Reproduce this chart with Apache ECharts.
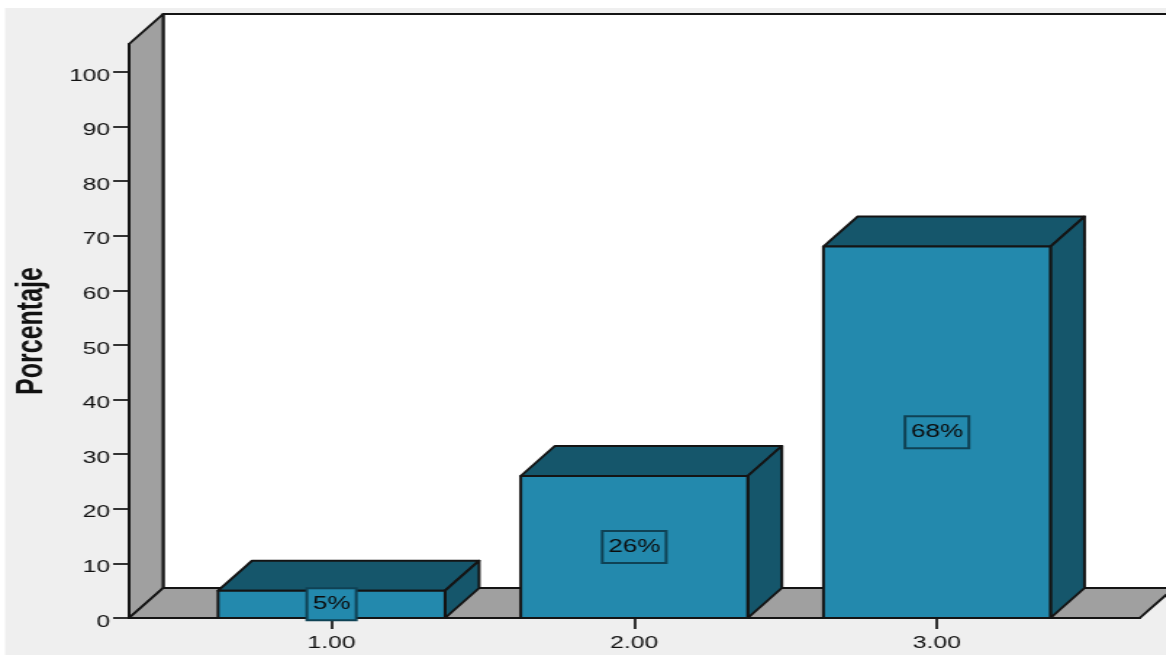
<!DOCTYPE html>
<html>
<head>
<meta charset="utf-8">
<style>
html,body{margin:0;padding:0;background:#fff;overflow:hidden}
/* The plot is laid out narrow and widened, which gives its wide digits and tall rotated title */
#chart{width:804px;height:655px;transform:scaleX(1.45);transform-origin:0 0}
</style>
<script src="https://cdn.jsdelivr.net/npm/echarts@6/dist/echarts.min.js"></script>
</head>
<body>
<div id="chart"></div>
<script>
// Chart values
const categories = [1, 2, 3];
const percentages = [5, 26, 68];
const yTicks = [0, 10, 20, 30, 40, 50, 60, 70, 80, 90, 100];

// Axis extents and box projection (in layout pixels before widening)
const xMin = 0.331, xMax = 3.67, yMax = 105.1;
const barWidth = 0.75;
const depthX = 23.5, depthY = 30;
const INK = '#141414', FRONT = '#2389ad', SHADE = '#15566b', WALL = '#a0a0a0';
const FONT = 'Liberation Sans';

function poly(points, fill) {
  return { type: 'polygon', shape: { points }, style: { fill, stroke: INK, lineWidth: 2, lineJoin: 'round' } };
}

// Back wall, side wall and floor of the 3D plot area
function renderFrame(params, api) {
  const [l, b] = api.coord([xMin, 0]);
  const [r, t] = api.coord([xMax, yMax]);
  return {
    type: 'group',
    children: [
      poly([[l + depthX, t - depthY], [r + depthX + 40, t - depthY], [r + depthX + 40, b - depthY], [l + depthX, b - depthY]], '#ffffff'),
      poly([[l, b], [l, t], [l + depthX, t - depthY], [l + depthX, b - depthY]], WALL),
      poly([[l, b], [l + depthX, b - depthY], [r + depthX, b - depthY], [r, b]], WALL)
    ]
  };
}

// One extruded bar with its boxed percentage label
function renderBar(params, api) {
  const x = api.value(0), v = api.value(1);
  const [x0, y0] = api.coord([x - barWidth / 2, 0]);
  const [x1, y1] = api.coord([x + barWidth / 2, v]);
  return {
    type: 'group',
    children: [
      poly([[x0, y1], [x0 + depthX, y1 - depthY], [x1 + depthX, y1 - depthY], [x1, y1]], SHADE),
      poly([[x1, y1], [x1 + depthX, y1 - depthY], [x1 + depthX, y0 - depthY], [x1, y0]], SHADE),
      poly([[x0, y0], [x0, y1], [x1, y1], [x1, y0]], FRONT),
      {
        type: 'text',
        style: {
          text: v + '%',
          x: (x0 + x1) / 2, y: (y0 + y1) / 2,
          align: 'center', verticalAlign: 'middle',
          font: '18px "' + FONT + '"', fill: '#0c0c0c',
          backgroundColor: FRONT, borderColor: '#0f4255', borderWidth: 2,
          padding: [6, 3, 6, 3]
        }
      }
    ]
  };
}

const chart = echarts.init(document.getElementById('chart'));
chart.setOption({
  animation: false,
  backgroundColor: '#ffffff',
  graphic: [{ type: 'rect', z: -10, shape: { x: 3.5, y: 8, width: 801, height: 647 }, style: { fill: '#efefef' } }],
  grid: { left: 89, right: 18, top: 44, bottom: 37, outerBoundsMode: 'none' },
  xAxis: {
    type: 'value', min: xMin, max: xMax, splitLine: { show: false },
    axisLine: { show: true, lineStyle: { color: INK, width: 2 } },
    axisTick: { show: true, customValues: categories, length: 11, lineStyle: { color: '#333', width: 2 } },
    axisLabel: { customValues: categories, formatter: v => v.toFixed(2), color: '#111', margin: 17, fontSize: 17, fontFamily: FONT }
  },
  yAxis: {
    type: 'value', min: 0, max: yMax, splitLine: { show: false },
    name: 'Porcentaje', nameLocation: 'middle', nameRotate: 90, nameGap: 54,
    nameTextStyle: { fontFamily: FONT, fontWeight: 'bold', fontSize: 25, color: '#111' },
    axisLine: { show: true, lineStyle: { color: INK, width: 2 } },
    axisTick: { show: true, customValues: yTicks, length: 11, lineStyle: { color: '#333', width: 2 } },
    axisLabel: { customValues: yTicks, color: '#111', margin: 13, fontSize: 17, fontFamily: FONT, verticalAlign: 'top', lineHeight: 8 }
  },
  series: [
    { type: 'custom', z: 1, clip: false, silent: true, data: [[xMin, 0]], renderItem: renderFrame },
    { type: 'custom', z: 5, clip: false, silent: true, data: categories.map((c, i) => [c, percentages[i]]), renderItem: renderBar }
  ]
});
</script>
</body>
</html>
